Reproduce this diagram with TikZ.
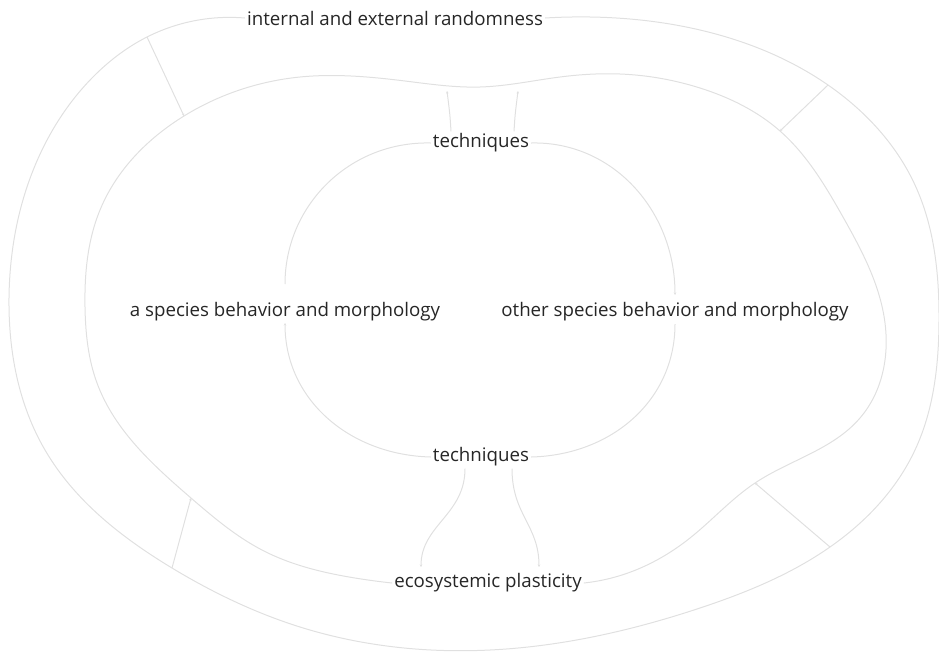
\documentclass[tikz,border=0pt]{standalone}
\usepackage{fontspec}
\setmainfont{Open Sans}
\usetikzlibrary{arrows.meta,hobby}
\definecolor{ringc}{HTML}{E0E0E0}
\definecolor{txt}{HTML}{262626}
\begin{document}
\begin{tikzpicture}[x=1pt,y=-1pt,
  lbl/.style={font=\fontsize{18.7}{22}\selectfont, text=txt, inner sep=2pt},
  ring/.style={draw=ringc, line width=1pt},
  arr/.style={ring, -{Stealth[length=2.5pt,width=2.5pt]}}]
\useasboundingbox (0,0) rectangle (939,651);
% nodes
\node[lbl] (rand) at (395,18) {internal and external randomness};
\node[lbl] (tt) at (481,143) {techniques};
\node[lbl] (sa) at (285,312) {a species behavior and morphology};
\node[lbl] (so) at (675,312) {other species behavior and morphology};
\node[lbl] (tb) at (481,457) {techniques};
\node[lbl] (eco) at (488,583) {ecosystemic plasticity};
% points on the rings
\coordinate (o1) at (147,37);
\coordinate (o2) at (828,85);
\coordinate (o3) at (172,568);
\coordinate (o4) at (830,547);
\coordinate (m1) at (184,116);
\coordinate (m2) at (780,131);
\coordinate (m3) at (191,498);
\coordinate (m4) at (755,483);
\coordinate (mt1) at (447,91);
\coordinate (mt2) at (518,91);
\coordinate (sat) at (285,284);
\coordinate (sab) at (285,323);
\coordinate (sot) at (675,295);
\coordinate (sob) at (675,324);
% outer ring
\draw[ring, use Hobby shortcut] (rand.west) .. (205,19) .. (o1) .. (96,74) .. (42,150) .. (9,298) .. (45,450) .. (o3) .. (300,627) .. (490,650) .. (700,608) .. (o4) .. (915,450) .. (939,320) .. (915,185) .. (o2) .. (700,30) .. (590,17) .. (rand.east);
% middle ring
\draw[ring, use Hobby shortcut] (eco.west) .. (355,578) .. (262,550) .. (m3) .. (97,383) .. (85,307) .. (100,210) .. (m1) .. (300,77) .. (405,81) .. (480,87) .. (560,77) .. (620,74) .. (700,88) .. (m2) .. (843,217) .. (885,323) .. (860,418) .. (m4) .. (690,538) .. (625,574) .. (eco.east);
% inner ring
\draw[ring] (tt.west) .. controls (350,141) and (285,205) .. (sat);
\draw[arr] (tb.west) .. controls (350,455) and (285,400) .. (sab);
\draw[arr] (tt.east) .. controls (612,141) and (675,210) .. (sot);
\draw[ring] (tb.east) .. controls (612,455) and (675,400) .. (sob);
% links between rings
\draw[arr] (o1) -- (m1);
\draw[arr] (o2) -- (m2);
\draw[arr] (o3) -- (m3);
\draw[arr] (o4) -- (m4);
\draw[arr] ([xshift=-30pt]tt.north) .. controls (450,115) .. (mt1);
\draw[arr] ([xshift=33pt]tt.north) .. controls (515,115) .. (mt2);
\draw[arr] ([xshift=-16pt]tb.south) .. controls (465,515) and (421,525) .. (421,567);
\draw[arr] ([xshift=31pt]tb.south) .. controls (512,515) and (539,525) .. (539,567);
\end{tikzpicture}
\end{document}
